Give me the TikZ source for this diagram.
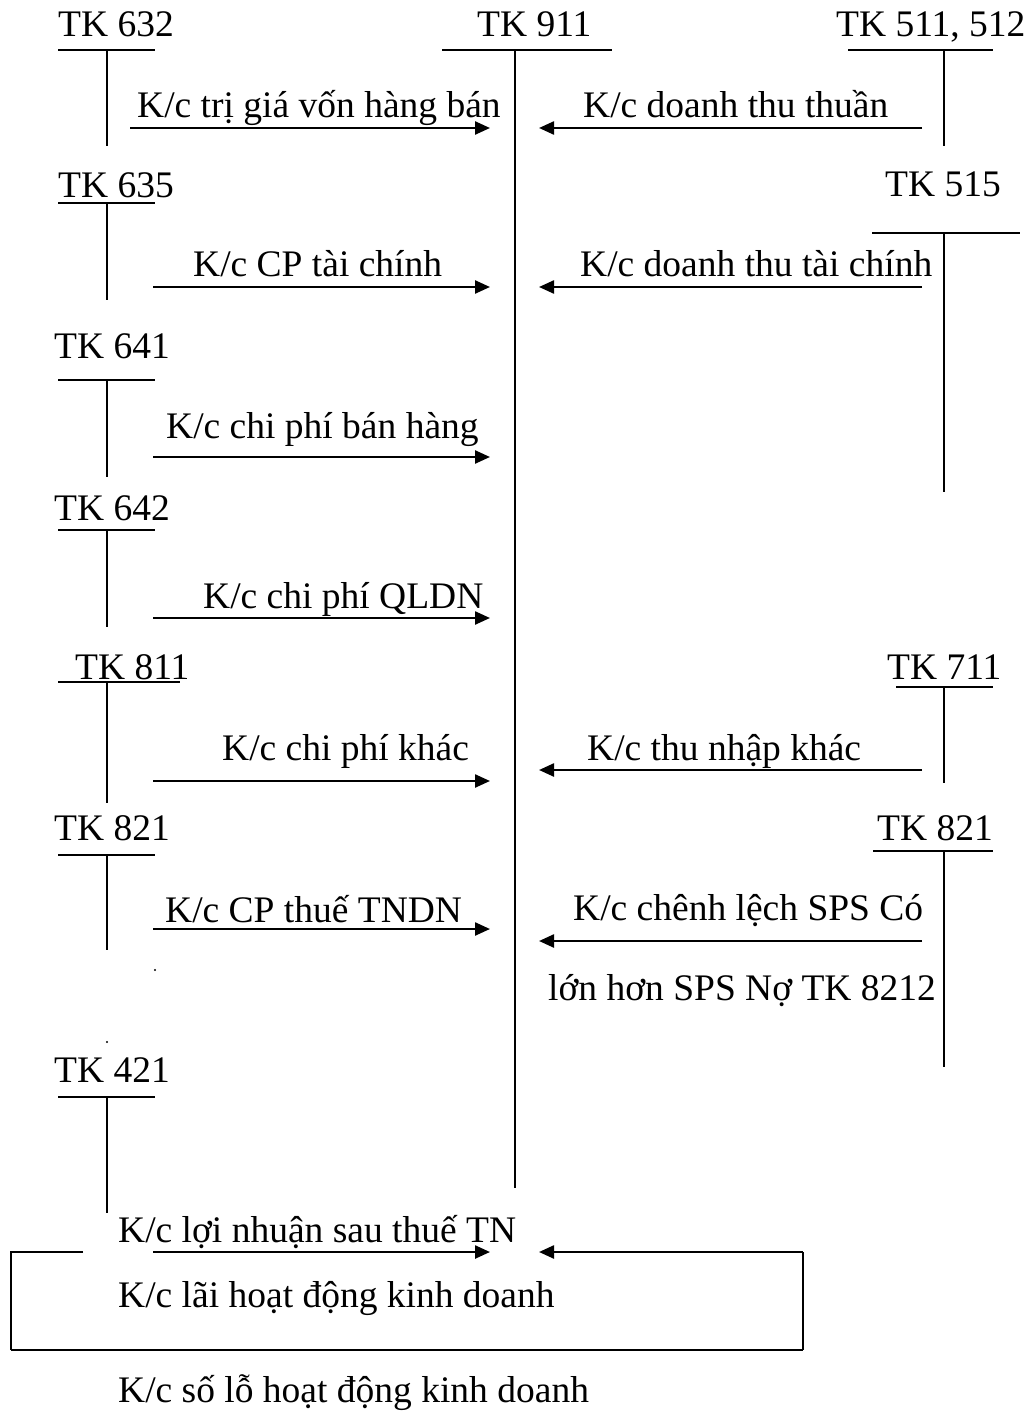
\documentclass[tikz,border=0pt]{standalone}
\usepackage{fontspec}
\setmainfont{Liberation Serif}
\usetikzlibrary{arrows.meta}
\begin{document}
\begin{tikzpicture}[x=1pt,y=-1pt,
  lbl/.style={anchor=base west,inner sep=0pt,font=\fontsize{37.5}{40}\selectfont},
  tline/.style={line width=1.8pt},
  flow/.style={line width=2.4pt,-{Triangle[length=15pt,width=13pt]}},
  boxline/.style={line width=2.2pt},
  speck/.style={fill=black,inner sep=0pt,minimum size=2.2pt,circle}
]
\useasboundingbox[fill=white] (0,0) rectangle (1026,1412);

% ---------- TK 911 ----------
\node[lbl] (t911) at (477,37) {TK 911};
\coordinate (h911a) at (442,50); \coordinate (h911b) at (612,50);
\coordinate (v911a) at (515,50); \coordinate (v911b) at (515,1188);
\draw[tline] (h911a) -- (h911b);
\draw[tline] (v911a) -- (v911b);

% ---------- left accounts ----------
% TK 632
\node[lbl] (t632) at (58,37) {TK 632};
\coordinate (h632a) at (58,50); \coordinate (h632b) at (155,50);
\coordinate (v632a) at (107,50); \coordinate (v632b) at (107,146);
\draw[tline] (h632a) -- (h632b); \draw[tline] (v632a) -- (v632b);
\coordinate (s632) at (130,128); \coordinate (e632) at (490,128);
\draw[flow] (s632) -- (e632);
\node[lbl] (l632) at (137,118) {K/c trị giá vốn hàng bán};

% TK 635
\node[lbl] (t635) at (58,198) {TK 635};
\coordinate (h635a) at (58,203); \coordinate (h635b) at (155,203);
\coordinate (v635a) at (107,203); \coordinate (v635b) at (107,300);
\draw[tline] (h635a) -- (h635b); \draw[tline] (v635a) -- (v635b);
\coordinate (s635) at (153,287); \coordinate (e635) at (490,287);
\draw[flow] (s635) -- (e635);
\node[lbl] (l635) at (193,277) {K/c CP tài chính};

% TK 641
\node[lbl] (t641) at (54,358) {TK 641};
\coordinate (h641a) at (58,380); \coordinate (h641b) at (155,380);
\coordinate (v641a) at (107,380); \coordinate (v641b) at (107,477);
\draw[tline] (h641a) -- (h641b); \draw[tline] (v641a) -- (v641b);
\coordinate (s641) at (153,457); \coordinate (e641) at (490,457);
\draw[flow] (s641) -- (e641);
\node[lbl] (l641) at (166,438) {K/c chi phí bán hàng};

% TK 642
\node[lbl] (t642) at (54,520) {TK 642};
\coordinate (h642a) at (58,530); \coordinate (h642b) at (155,530);
\coordinate (v642a) at (107,530); \coordinate (v642b) at (107,627);
\draw[tline] (h642a) -- (h642b); \draw[tline] (v642a) -- (v642b);
\coordinate (s642) at (153,618); \coordinate (e642) at (490,618);
\draw[flow] (s642) -- (e642);
\node[lbl] (l642) at (203,608) {K/c chi phí QLDN};

% TK 811
\node[lbl] (t811) at (75,679) {TK 811};
\coordinate (h811a) at (58,682); \coordinate (h811b) at (180,682);
\coordinate (v811a) at (107,682); \coordinate (v811b) at (107,803);
\draw[tline] (h811a) -- (h811b); \draw[tline] (v811a) -- (v811b);
\coordinate (s811) at (153,781); \coordinate (e811) at (490,781);
\draw[flow] (s811) -- (e811);
\node[lbl] (l811) at (222,760) {K/c chi phí khác};

% TK 821 (left)
\node[lbl] (t821l) at (54,840) {TK 821};
\coordinate (h821la) at (58,855); \coordinate (h821lb) at (155,855);
\coordinate (v821la) at (107,855); \coordinate (v821lb) at (107,950);
\draw[tline] (h821la) -- (h821lb); \draw[tline] (v821la) -- (v821lb);
\coordinate (s821l) at (153,929); \coordinate (e821l) at (490,929);
\draw[flow] (s821l) -- (e821l);
\node[lbl] (l821l) at (165,922) {K/c CP thuế TNDN};

% small specks
\node[speck] (d1) at (155,970) {};
\node[speck] (d2) at (107,1042) {};

% TK 421
\node[lbl] (t421) at (54,1082) {TK 421};
\coordinate (h421a) at (58,1097); \coordinate (h421b) at (155,1097);
\coordinate (v421a) at (107,1097); \coordinate (v421b) at (107,1213);
\draw[tline] (h421a) -- (h421b); \draw[tline] (v421a) -- (v421b);

% ---------- right accounts ----------
% TK 511, 512
\node[lbl] (t511) at (836,37) {TK 511, 512};
\coordinate (h511a) at (848,50); \coordinate (h511b) at (993,50);
\coordinate (v511a) at (944,50); \coordinate (v511b) at (944,146);
\draw[tline] (h511a) -- (h511b); \draw[tline] (v511a) -- (v511b);
\coordinate (s511) at (922,128); \coordinate (e511) at (539,128);
\draw[flow] (s511) -- (e511);
\node[lbl] (l511) at (583,118) {K/c doanh thu thuần};

% TK 515
\node[lbl] (t515) at (885,197) {TK 515};
\coordinate (h515a) at (872,233); \coordinate (h515b) at (1020,233);
\coordinate (v515a) at (944,233); \coordinate (v515b) at (944,492);
\draw[tline] (h515a) -- (h515b); \draw[tline] (v515a) -- (v515b);
\coordinate (s515) at (922,287); \coordinate (e515) at (539,287);
\draw[flow] (s515) -- (e515);
\node[lbl] (l515) at (580,277) {K/c doanh thu tài chính};

% TK 711
\node[lbl] (t711) at (887,679) {TK 711};
\coordinate (h711a) at (896,687); \coordinate (h711b) at (993,687);
\coordinate (v711a) at (944,687); \coordinate (v711b) at (944,783);
\draw[tline] (h711a) -- (h711b); \draw[tline] (v711a) -- (v711b);
\coordinate (s711) at (922,770); \coordinate (e711) at (539,770);
\draw[flow] (s711) -- (e711);
\node[lbl] (l711) at (587,760) {K/c thu nhập khác};

% TK 821 (right)
\node[lbl] (t821r) at (877,840) {TK 821};
\coordinate (h821ra) at (873,851); \coordinate (h821rb) at (993,851);
\coordinate (v821ra) at (944,851); \coordinate (v821rb) at (944,1067);
\draw[tline] (h821ra) -- (h821rb); \draw[tline] (v821ra) -- (v821rb);
\coordinate (s821r) at (922,941); \coordinate (e821r) at (539,941);
\draw[flow] (s821r) -- (e821r);
\node[lbl] (l821r) at (573,920) {K/c chênh lệch SPS Có};
\node[lbl] (l821r2) at (548,1000) {lớn hơn SPS Nợ TK 8212};

% ---------- bottom ----------
\node[lbl] (l421) at (118,1242) {K/c lợi nhuận sau thuế TN};
\coordinate (s421) at (153,1252); \coordinate (e421) at (490,1252);
\draw[flow] (s421) -- (e421);
\coordinate (bRt) at (803,1252); \coordinate (eLoss) at (539,1252);
\draw[flow] (bRt) -- (eLoss);
\coordinate (bLt) at (83,1252); \coordinate (bL) at (11,1252);
\coordinate (bLb) at (11,1350); \coordinate (bRb) at (803,1350);
\draw[tline] (bLt) -- (bL) -- (bLb);
\draw[boxline] (bLb) -- (bRb);
\draw[tline] (bRb) -- (bRt);
\node[lbl] (llai) at (118,1307) {K/c lãi hoạt động kinh doanh};
\node[lbl] (llo) at (118,1402) {K/c số lỗ hoạt động kinh doanh};
\end{tikzpicture}
\end{document}
